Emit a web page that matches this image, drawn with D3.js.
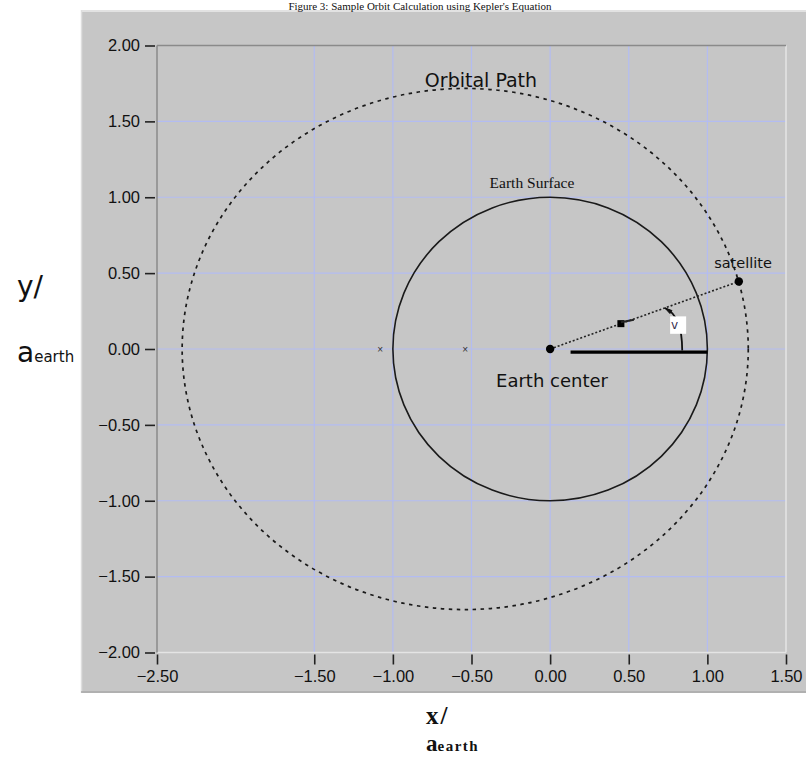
<!DOCTYPE html>
<html>
<head>
<meta charset="utf-8">
<script src="https://cdn.jsdelivr.net/npm/d3@7"></script>
<style>
  body { margin: 0; background: #fff; }
  svg { display: block; }
</style>
</head>
<body>
<svg id="chart" width="806" height="758"></svg>
<script>
// Axis ticks
const xTicks = [-2.5, -1.5, -1.0, -0.5, 0.0, 0.5, 1.0, 1.5];
const yTicks = [-2.0, -1.5, -1.0, -0.5, 0.0, 0.5, 1.0, 1.5, 2.0];
const xGrid = [-1.5, -1.0, -0.5, 0.0, 0.5, 1.0];
const yGrid = [-1.5, -1.0, -0.5, 0.0, 0.5, 1.0, 1.5];

// Orbit (in Earth radii): semi-major axis, eccentricity, Earth at the focus
const orbitA = [1.8];
const orbitE = [0.3];
const earthRadius = [1.0];
const earthCenter = [0.0, 0.0];
const satellite = [1.2, 0.445];
const midMarker = [0.45, 0.167];
const ellipsePoints = [[-0.54, 0.0], [-1.08, 0.0]]; // orbit centre and empty focus
const refLine = [[0.13, -0.02], [1.0, -0.02]];
const angleArc = [[0.73, 0.27], [0.84, 0.22], [0.84, -0.01]];
const nuBox = [[0.763, 0.215], [0.865, 0.10]];

const svg = d3.select("#chart");

// Panel
svg.append("rect").attr("x", 81).attr("y", 10).attr("width", 725).attr("height", 683)
  .attr("fill", "#c6c6c6");
svg.append("line").attr("x1", 81).attr("x2", 806).attr("y1", 11).attr("y2", 11)
  .attr("stroke", "#e2e2e2").attr("stroke-width", 2);
svg.append("line").attr("x1", 81.5).attr("x2", 81.5).attr("y1", 10).attr("y2", 693)
  .attr("stroke", "#dedede").attr("stroke-width", 1.5);
svg.append("line").attr("x1", 81).attr("x2", 806).attr("y1", 692).attr("y2", 692)
  .attr("stroke", "#a8a8a8").attr("stroke-width", 1.5);

// Title, squeezed into the strip above the panel
svg.append("text").attr("x", 420).attr("y", 10).attr("text-anchor", "middle")
  .attr("font-family", "Liberation Serif, serif").attr("font-size", 11).attr("fill", "#111")
  .text("Figure 3: Sample Orbit Calculation using Kepler's Equation");

const x = d3.scaleLinear().domain([-2.5, 1.5]).range([157, 786]);
const y = d3.scaleLinear().domain([-2, 2]).range([652.5, 45.5]);

// Grid
const grid = svg.append("g");
grid.selectAll(".gx").data(xGrid).join("line")
  .attr("x1", d => x(d)).attr("x2", d => x(d)).attr("y1", y(2)).attr("y2", y(-2))
  .attr("stroke", "#b3bcf2").attr("stroke-width", 1.2);
grid.selectAll(".gy").data(yGrid).join("line")
  .attr("x1", x(-2.5)).attr("x2", x(1.5)).attr("y1", d => y(d)).attr("y2", d => y(d))
  .attr("stroke", "#b3bcf2").attr("stroke-width", 1.2);

// Plot frame
svg.append("line").attr("x1", x(-2.5)).attr("x2", x(1.5)).attr("y1", y(-2)).attr("y2", y(-2))
  .attr("stroke", "#e4e4e4").attr("stroke-width", 1.5);
svg.append("line").attr("x1", x(1.5)).attr("x2", x(1.5)).attr("y1", y(2)).attr("y2", y(-2))
  .attr("stroke", "#e4e4e4").attr("stroke-width", 1.5);
svg.append("line").attr("x1", x(-2.5)).attr("x2", x(1.5)).attr("y1", y(2)).attr("y2", y(2))
  .attr("stroke", "#8a8a8a").attr("stroke-width", 1.5);
svg.append("line").attr("x1", x(-2.5)).attr("x2", x(-2.5)).attr("y1", y(2)).attr("y2", y(-2))
  .attr("stroke", "#8a8a8a").attr("stroke-width", 1.5);

// Axes
const fmt = d3.format(".2f");
const tickFont = "Liberation Sans, Arial, sans-serif";
const yAxis = svg.append("g").attr("transform", `translate(${x(-2.5) - 2},0)`)
  .call(d3.axisLeft(y).tickValues(yTicks).tickFormat(fmt).tickSize(10).tickPadding(5));
const xAxis = svg.append("g").attr("transform", `translate(0,${y(-2) + 2})`)
  .call(d3.axisBottom(x).tickValues(xTicks).tickFormat(fmt).tickSize(10).tickPadding(6));
[xAxis, yAxis].forEach(g => {
  g.select(".domain").remove();
  g.selectAll(".tick line").attr("stroke", "#222").attr("stroke-width", 1.6);
  g.selectAll(".tick text").attr("font-family", tickFont).attr("font-size", 16.5).attr("fill", "#111");
});
xAxis.selectAll(".tick text").text(d => fmt(d));
yAxis.selectAll(".tick text").text(d => fmt(d));

// Orbit ellipse, centre offset from the focus by a*e
const a = orbitA[0], e = orbitE[0];
const b = a * Math.sqrt(1 - e * e);
svg.append("ellipse")
  .attr("cx", x(-a * e)).attr("cy", y(0))
  .attr("rx", x(a) - x(0)).attr("ry", y(0) - y(b))
  .attr("fill", "none").attr("stroke", "#1a1a1a").attr("stroke-width", 1.7)
  .attr("stroke-dasharray", "3.5,4.5");

// Earth surface
svg.append("ellipse")
  .attr("cx", x(earthCenter[0])).attr("cy", y(earthCenter[1]))
  .attr("rx", x(earthRadius[0]) - x(0)).attr("ry", y(0) - y(earthRadius[0]))
  .attr("fill", "none").attr("stroke", "#1a1a1a").attr("stroke-width", 1.6);

// Centre and empty focus markers
svg.selectAll(".xm").data(ellipsePoints).join("text")
  .attr("x", d => x(d[0])).attr("y", d => y(d[1]) + 3.5).attr("text-anchor", "middle")
  .attr("font-family", tickFont).attr("font-size", 10).attr("fill", "#333").text("\u00d7");

// Radius vector to the satellite
svg.append("line")
  .attr("x1", x(earthCenter[0])).attr("y1", y(earthCenter[1]))
  .attr("x2", x(satellite[0])).attr("y2", y(satellite[1]))
  .attr("stroke", "#222").attr("stroke-width", 1.6).attr("stroke-dasharray", "2,2");

// Reference direction
svg.append("line")
  .attr("x1", x(refLine[0][0])).attr("y1", y(refLine[0][1]))
  .attr("x2", x(refLine[1][0])).attr("y2", y(refLine[1][1]))
  .attr("stroke", "#000").attr("stroke-width", 3.2);

// Mid-vector marker
const mx = x(midMarker[0]), my = y(midMarker[1]);
svg.append("rect").attr("x", mx - 3.5).attr("y", my - 3.5).attr("width", 7).attr("height", 7)
  .attr("fill", "#000");
svg.append("line").attr("x1", mx).attr("y1", my - 1.5).attr("x2", mx + 13).attr("y2", my - 4)
  .attr("stroke", "#222").attr("stroke-width", 2);

// True anomaly arc
const arcPath = d3.path();
arcPath.moveTo(x(angleArc[0][0]), y(angleArc[0][1]));
arcPath.quadraticCurveTo(x(angleArc[1][0]), y(angleArc[1][1]), x(angleArc[2][0]), y(angleArc[2][1]));
svg.append("path").attr("d", arcPath.toString())
  .attr("fill", "none").attr("stroke", "#111").attr("stroke-width", 1.8);
svg.append("path")
  .attr("d", `M${x(angleArc[0][0])},${y(angleArc[0][1])} l7,2.5 l-2,3 z`)
  .attr("fill", "#111").attr("stroke", "#111").attr("stroke-width", 1);

// Angle label box
svg.append("rect")
  .attr("x", x(nuBox[0][0])).attr("y", y(nuBox[0][1]))
  .attr("width", x(nuBox[1][0]) - x(nuBox[0][0])).attr("height", y(nuBox[1][1]) - y(nuBox[0][1]))
  .attr("fill", "#fff");
svg.append("text").attr("x", x(nuBox[0][0]) + 1).attr("y", y(nuBox[1][1]) - 5)
  .attr("font-family", "DejaVu Sans, sans-serif").attr("font-size", 12).attr("fill", "#3a3050")
  .text("v");

// Points
svg.append("circle").attr("cx", x(earthCenter[0])).attr("cy", y(earthCenter[1])).attr("r", 4.2)
  .attr("fill", "#000");
svg.append("circle").attr("cx", x(satellite[0])).attr("cy", y(satellite[1])).attr("r", 4.2)
  .attr("fill", "#000");

// Annotations
const sans = "DejaVu Sans, Verdana, sans-serif";
svg.append("text").attr("x", 481).attr("y", 87).attr("text-anchor", "middle")
  .attr("font-family", sans).attr("font-size", 19).attr("fill", "#111").text("Orbital Path");
svg.append("text").attr("x", 532).attr("y", 188).attr("text-anchor", "middle")
  .attr("font-family", "Liberation Serif, serif").attr("font-size", 15.5).attr("fill", "#111")
  .text("Earth Surface");
svg.append("text").attr("x", 743).attr("y", 268).attr("text-anchor", "middle")
  .attr("font-family", sans).attr("font-size", 14.5).attr("fill", "#111").text("satellite");
svg.append("text").attr("x", 552).attr("y", 387).attr("text-anchor", "middle")
  .attr("font-family", sans).attr("font-size", 18).attr("fill", "#111").text("Earth center");

// Axis titles
const yt = svg.append("text").attr("font-family", sans).attr("fill", "#111");
yt.append("tspan").attr("x", 17).attr("y", 296).attr("font-size", 28).text("y/");
const ya = svg.append("text").attr("font-family", sans).attr("fill", "#111").attr("x", 17).attr("y", 362);
ya.append("tspan").attr("font-size", 28).text("a");
ya.append("tspan").attr("font-size", 15).text("earth");

const xt = svg.append("text").attr("font-family", "Liberation Serif, serif").attr("font-weight", "bold")
  .attr("fill", "#111");
xt.append("tspan").attr("x", 426).attr("y", 724).attr("font-size", 25).attr("letter-spacing", 2).text("x/");
const xa = svg.append("text").attr("font-family", "Liberation Serif, serif").attr("font-weight", "bold")
  .attr("fill", "#111").attr("x", 426).attr("y", 751);
xa.append("tspan").attr("font-size", 23).text("a");
xa.append("tspan").attr("font-size", 15).attr("letter-spacing", 1.5).text("earth");
</script>
</body>
</html>
